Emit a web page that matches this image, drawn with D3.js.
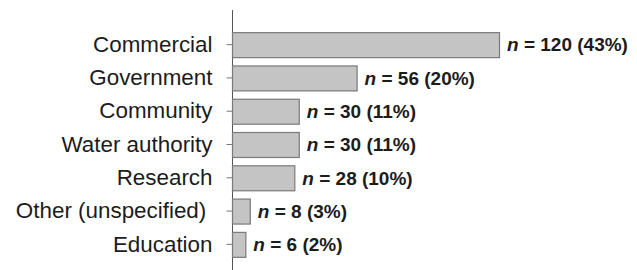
<!DOCTYPE html>
<html><head><meta charset="utf-8">
<script src="https://cdn.jsdelivr.net/npm/d3@7"></script>
<style>body{margin:0;background:#fff;} text{font-family:"Liberation Sans",Arial,sans-serif;}</style>
</head><body>
<svg id="c" width="637" height="270"></svg>
<script>
const categories = ["Commercial","Government","Community","Water authority","Research","Other (unspecified) ","Education"];
const counts = [120,56,30,30,28,8,6];
const percents = [43,20,11,11,10,3,2];

const svg = d3.select("#c");
const x0 = 232;
const x = d3.scaleLinear().domain([0,120]).range([x0,499]);
const y = d3.scaleBand().domain(categories).range([28,261]).paddingInner(0.25).paddingOuter(0.125);

// axis line
svg.append("line").attr("x1",x0+0.5).attr("x2",x0+0.5).attr("y1",10).attr("y2",270)
  .attr("stroke","#555").attr("stroke-width",1);

const yAxis = d3.axisLeft(y).tickSize(6).tickPadding(14);
const g = svg.append("g").attr("transform",`translate(${x0+0.5},0)`).call(yAxis);
g.select(".domain").remove();
g.selectAll(".tick line").attr("stroke","#777");
g.selectAll(".tick text").attr("font-size",22.4).attr("fill","#1c1c1c").style("white-space","pre");

svg.selectAll("rect.bar").data(categories).enter().append("rect")
  .attr("class","bar")
  .attr("x",x0+0.5)
  .attr("y",(d)=>y(d)+0.5)
  .attr("width",(d,i)=>x(counts[i])-x0)
  .attr("height",y.bandwidth())
  .attr("fill","#c4c4c4").attr("stroke","#7a7a7a").attr("stroke-width",1.2);

const lab = svg.selectAll("text.lab").data(categories).enter().append("text")
  .attr("class","lab")
  .attr("x",(d,i)=>x(counts[i])+8)
  .attr("y",(d)=>y(d)+y.bandwidth()/2)
  .attr("dy","0.36em")
  .attr("font-size",19).attr("font-weight","bold").attr("fill","#1c1c1c");
lab.append("tspan").attr("font-style","italic").text("n");
lab.append("tspan").text((d,i)=>` = ${counts[i]} (${percents[i]}%)`);
</script>
</body></html>
